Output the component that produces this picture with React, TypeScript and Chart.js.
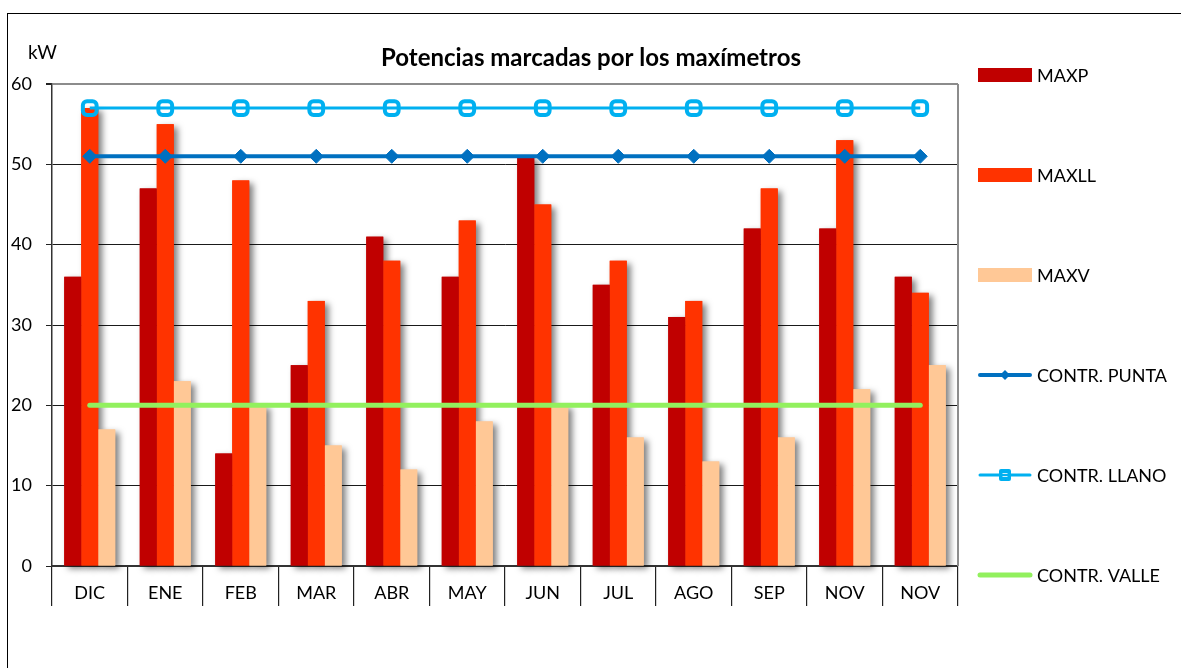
import React, { useEffect, useRef } from "react";
import { Chart, registerables } from "chart.js";

Chart.register(...registerables);

const categories = ["DIC", "ENE", "FEB", "MAR", "ABR", "MAY", "JUN", "JUL", "AGO", "SEP", "NOV", "NOV"];
const maxp = [36, 47, 14, 25, 41, 36, 51, 35, 31, 42, 42, 36];
const maxll = [57, 55, 48, 33, 38, 43, 45, 38, 33, 47, 53, 34];
const maxv = [17, 23, 20, 15, 12, 18, 20, 16, 13, 16, 22, 25];
const contrPunta = [51, 51, 51, 51, 51, 51, 51, 51, 51, 51, 51, 51];
const contrLlano = [57, 57, 57, 57, 57, 57, 57, 57, 57, 57, 57, 57];
const contrValle = [20, 20, 20, 20, 20, 20, 20, 20, 20, 20, 20, 20];
const yTicks = [0, 10, 20, 30, 40, 50, 60];

const TITLE = "Potencias marcadas por los maxímetros";
const UNIT = "kW";
const FONT = "Lato";

const shadowPlugin = {
  id: "barShadow",
  beforeDatasetsDraw(chart: any) {
    const ctx = chart.ctx;
    ctx.save();
    ctx.shadowColor = "rgba(0,0,0,0.5)";
    ctx.shadowBlur = 6;
    ctx.shadowOffsetX = 4;
    ctx.shadowOffsetY = 3;
    chart.data.datasets.forEach((ds: any, i: number) => {
      const meta = chart.getDatasetMeta(i);
      if (meta.type !== "bar" || meta.hidden) return;
      ctx.fillStyle = ds.backgroundColor;
      meta.data.forEach((el: any) => {
        const p = el.getProps(["x", "y", "base", "width"], true);
        ctx.fillRect(p.x - p.width / 2, p.y, p.width, p.base - p.y);
      });
    });
    ctx.restore();
  },
};

const framePlugin = {
  id: "frameDeco",
  beforeDatasetsDraw(chart: any) {
    const { ctx, chartArea } = chart;
    ctx.save();
    ctx.strokeStyle = "#8c8c8c";
    ctx.lineWidth = 2;
    ctx.beginPath();
    ctx.moveTo(chartArea.right, chartArea.top);
    ctx.lineTo(chartArea.right, chartArea.bottom);
    ctx.stroke();
    ctx.restore();
  },
  afterDraw(chart: any) {
    const { ctx } = chart;
    ctx.save();
    // title
    ctx.fillStyle = "#000";
    ctx.font = `bold 24px ${FONT}`;
    ctx.textAlign = "center";
    ctx.textBaseline = "middle";
    ctx.fillText(TITLE, 583, 44);
    // unit
    ctx.font = `19px ${FONT}`;
    ctx.textAlign = "left";
    ctx.fillText(UNIT, 20, 39);
    // legend
    const x0 = 970;
    const w = 54;
    chart.data.datasets.forEach((ds: any, i: number) => {
      const cy = 61 + i * 100;
      if (ds.type === "bar") {
        ctx.fillStyle = ds.backgroundColor;
        ctx.fillRect(x0, cy - 7, w, 14);
      } else {
        ctx.strokeStyle = ds.borderColor;
        ctx.lineWidth = ds.borderWidth;
        ctx.lineCap = "round";
        ctx.beginPath();
        ctx.moveTo(x0 + 2, cy);
        ctx.lineTo(x0 + w - 2, cy);
        ctx.stroke();
        const mx = x0 + w / 2;
        if (ds.pointStyle === "rectRot" && ds.pointRadius > 0) {
          ctx.fillStyle = ds.borderColor;
          ctx.beginPath();
          ctx.moveTo(mx, cy - 5);
          ctx.lineTo(mx + 5, cy);
          ctx.lineTo(mx, cy + 5);
          ctx.lineTo(mx - 5, cy);
          ctx.closePath();
          ctx.fill();
        } else if (ds.pointStyle === "rectRounded" && ds.pointRadius > 0) {
          ctx.fillStyle = ds.borderColor;
          ctx.beginPath();
          (ctx as any).roundRect(mx - 6, cy - 6, 12, 12, 2);
          ctx.fill();
          ctx.strokeStyle = "rgba(255,255,255,0.8)";
          ctx.lineWidth = 1;
          ctx.lineCap = "butt";
          ctx.beginPath();
          ctx.moveTo(mx - 2.5, cy - 1.5);
          ctx.lineTo(mx + 2.5, cy - 1.5);
          ctx.moveTo(mx - 2.5, cy + 1.5);
          ctx.lineTo(mx + 2.5, cy + 1.5);
          ctx.stroke();
        }
      }
      ctx.fillStyle = "#000";
      ctx.font = `18px ${FONT}`;
      ctx.textAlign = "left";
      ctx.textBaseline = "middle";
      ctx.fillText(ds.label, x0 + w + 5, cy + 1);
    });
    ctx.restore();
  },
};

export default function App() {
  const ref = useRef<HTMLCanvasElement>(null);

  useEffect(() => {
    if (!ref.current) return;
    const chart = new Chart(ref.current, {
      type: "bar",
      data: {
        labels: categories,
        datasets: [
          { type: "bar", label: "MAXP", data: maxp, backgroundColor: "#C00000", order: 1 } as any,
          { type: "bar", label: "MAXLL", data: maxll, backgroundColor: "#FF3300", order: 1 } as any,
          { type: "bar", label: "MAXV", data: maxv, backgroundColor: "#FFC896", order: 1 } as any,
          {
            type: "line", label: "CONTR. PUNTA", data: contrPunta, borderColor: "#0070C0",
            backgroundColor: "#0070C0", borderWidth: 4, pointStyle: "rectRot", pointRadius: 7,
            pointBorderWidth: 1, order: 0,
          } as any,
          {
            type: "line", label: "CONTR. LLANO", data: contrLlano, borderColor: "#00B0F0",
            backgroundColor: "rgba(255,255,255,0)", borderWidth: 3, pointStyle: "rectRounded",
            pointRadius: 8, pointBorderWidth: 4, order: 0,
          } as any,
          {
            type: "line", label: "CONTR. VALLE", data: contrValle, borderColor: "#92F05E",
            backgroundColor: "#92F05E", borderWidth: 5, pointRadius: 0, borderCapStyle: "round", order: 0,
          } as any,
        ],
      },
      options: {
        responsive: false,
        animation: false,
        layout: { padding: { top: 70, right: 223, bottom: 57, left: 0 } },
        font: { family: FONT },
        datasets: { bar: { categoryPercentage: 0.675, barPercentage: 1.0 } } as any,
        plugins: { legend: { display: false }, title: { display: false }, tooltip: { enabled: false } },
        scales: {
          x: {
            offset: true,
            grid: { offset: true, drawOnChartArea: false, drawTicks: true, tickLength: 40, color: "#222", lineWidth: 1.2 },
            border: { display: true, color: "#333", width: 2 },
            ticks: { color: "#000", font: { family: FONT, size: 18 }, padding: -24 },
            afterFit: (s: any) => { s.height = 45; },
          } as any,
          y: {
            min: 0,
            max: 60,
            afterBuildTicks: (s: any) => { s.ticks = yTicks.map((v) => ({ value: v })); },
            grid: {
              color: (c: any) => (c.tick && c.tick.value === 60 ? "#8c8c8c" : "#1a1a1a"),
              lineWidth: (c: any) => (c.tick && c.tick.value === 60 ? 2 : 1),
              tickColor: "#222",
              tickLength: 6,
            },
            border: { display: true, color: "#333", width: 1.5 },
            ticks: { color: "#000", font: { family: FONT, size: 18 }, padding: 14 },
            afterFit: (s: any) => { s.width = 44; },
          } as any,
        },
      },
      plugins: [shadowPlugin, framePlugin],
    });
    return () => chart.destroy();
  }, []);

  return (
    <div
      style={{
        position: "absolute",
        left: 7,
        top: 13,
        width: 1173,
        height: 654,
        borderLeft: "1px solid #000",
        borderTop: "1px solid #000",
        background: "#fff",
        overflow: "hidden",
      }}
    >
      <canvas ref={ref} width={1173} height={654} style={{ display: "block", width: 1173, height: 654 }} />
    </div>
  );
}
